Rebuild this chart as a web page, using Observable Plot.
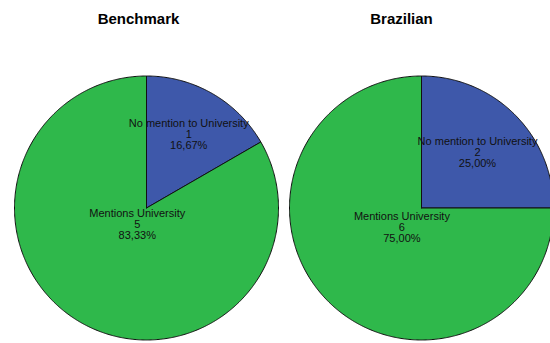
<!DOCTYPE html>
<html><head><meta charset="utf-8">
<script src="https://cdn.jsdelivr.net/npm/d3@7"></script>
<script src="https://cdn.jsdelivr.net/npm/@observablehq/plot@0.6"></script>
<style>body{margin:0;background:#fff}</style>
</head><body><div id="chart"></div>
<script>
// Survey counts per group
const groups = ["Benchmark", "Brazilian"];
const categories = ["No mention to University", "Mentions University"];
const benchmarkCounts = [1, 5];
const brazilianCounts = [2, 6];
const colors = ["#3e58aa", "#2fb84b"];

// Pie layout (pixel units on identity x/y scales)
const panels = [
  {counts: benchmarkCounts, cx: 146, cy: 207.5, r: 132, titleX: 138, labelRadius: [0.64, 0.14]},
  {counts: brazilianCounts, cx: 421, cy: 207.5, r: 132, titleX: 401, labelRadius: [0.6, 0.21]}
];
const titleY = 19;

const fmtPct = v => (v * 100).toFixed(2).replace(".", ",") + "%";

const wedgePoints = [];
const labels = [];
const titles = [];
groups.forEach((g, gi) => {
  const p = panels[gi];
  const total = d3.sum(p.counts);
  const arcs = d3.pie().sort(null).value(d => d)(p.counts);
  titles.push({x: p.titleX, y: titleY, text: g});
  arcs.forEach((a, ci) => {
    const key = g + "|" + ci;
    const cat = categories[ci];
    const steps = Math.max(2, Math.ceil((a.endAngle - a.startAngle) / (Math.PI / 360)));
    wedgePoints.push({key, cat, x: p.cx, y: p.cy});
    for (let s = 0; s <= steps; s++) {
      const t = a.startAngle + (a.endAngle - a.startAngle) * s / steps;
      wedgePoints.push({key, cat, x: p.cx + p.r * Math.sin(t), y: p.cy - p.r * Math.cos(t)});
    }
    wedgePoints.push({key, cat, x: p.cx, y: p.cy});
    const mid = (a.startAngle + a.endAngle) / 2;
    const lr = p.r * p.labelRadius[ci];
    labels.push({
      x: p.cx + lr * Math.sin(mid),
      y: p.cy - lr * Math.cos(mid),
      text: `${cat}\n${a.data}\n${fmtPct(a.data / total)}`
    });
  });
});

const chart = Plot.plot({
  width: 550,
  height: 343,
  margin: 0,
  x: {domain: [0, 550], range: [0, 550], axis: null},
  y: {domain: [0, 343], range: [0, 343], axis: null},
  color: {domain: categories, range: colors},
  style: {fontFamily: "'Liberation Sans', Arial, sans-serif", background: "#fff"},
  marks: [
    Plot.line(wedgePoints, {x: "x", y: "y", z: "key", fill: "cat", stroke: "#111", strokeWidth: 1, strokeLinejoin: "round"}),
    Plot.text(labels, {x: "x", y: "y", text: "text", fontSize: 11, fill: "#111", lineHeight: 1}),
    Plot.text(titles, {x: "x", y: "y", text: "text", fontSize: 15, fontWeight: "bold", fill: "#000"})
  ]
});
document.getElementById("chart").append(chart);
</script>
</body></html>
